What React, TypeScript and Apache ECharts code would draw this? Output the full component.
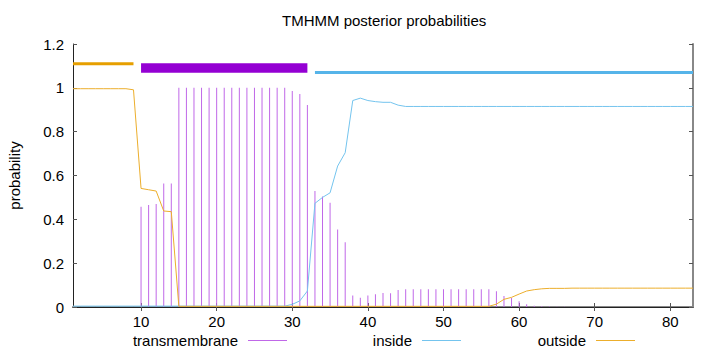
import React, { useEffect, useRef } from 'react';
import * as echarts from 'echarts';

const positions = [
  1, 2, 3, 4, 5, 6, 7, 8, 9, 10, 11, 12, 13, 14, 15, 16, 17, 18, 19, 20,
  21, 22, 23, 24, 25, 26, 27, 28, 29, 30, 31, 32, 33, 34, 35, 36, 37, 38, 39, 40,
  41, 42, 43, 44, 45, 46, 47, 48, 49, 50, 51, 52, 53, 54, 55, 56, 57, 58, 59, 60,
  61, 62, 63, 64, 65, 66, 67, 68, 69, 70, 71, 72, 73, 74, 75, 76, 77, 78, 79, 80,
  81, 82, 83,
];

const transmembrane = [
  0, 0, 0, 0, 0, 0, 0, 0, 0,
  0.457, 0.465, 0.47, 0.564, 0.564,
  1, 1, 1, 1, 1, 1, 1, 1, 1, 1, 1, 1, 1, 1, 1,
  0.986, 0.972, 0.922,
  0.529, 0.504, 0.476, 0.354, 0.296, 0.053, 0.042, 0.053, 0.058, 0.064, 0.063, 0.078, 0.081,
  0.081, 0.081, 0.081, 0.081, 0.081, 0.081, 0.081, 0.081, 0.081, 0.081, 0.081,
  0.072, 0.05, 0.041, 0.026, 0.012, 0.006, 0.003, 0.002, 0.001, 0.001,
  0, 0, 0, 0, 0, 0, 0, 0, 0, 0, 0, 0, 0, 0, 0, 0, 0,
];

const inside = [
  0.004, 0.004, 0.004, 0.004, 0.004, 0.004, 0.004, 0.004, 0.004, 0.004,
  0.004, 0.004, 0.004, 0.004, 0.004, 0.004, 0.004, 0.004, 0.004, 0.004,
  0.004, 0.004, 0.004, 0.004, 0.004, 0.004, 0.004, 0.004, 0.004,
  0.012, 0.028, 0.073, 0.473, 0.5, 0.521, 0.643, 0.704, 0.942, 0.953, 0.942, 0.937, 0.934, 0.934, 0.921, 0.915,
  0.915, 0.915, 0.915, 0.915, 0.915, 0.915, 0.915, 0.915, 0.915, 0.915,
  0.915, 0.915, 0.915, 0.915, 0.915, 0.915, 0.915, 0.915, 0.915, 0.915,
  0.915, 0.915, 0.915, 0.915, 0.915, 0.915, 0.915, 0.915, 0.915, 0.915,
  0.915, 0.915, 0.915, 0.915, 0.915, 0.915, 0.915, 0.915,
];

const outside = [
  0.996, 0.996, 0.996, 0.996, 0.996, 0.996, 0.996, 0.996, 0.991,
  0.541, 0.535, 0.529, 0.438, 0.435,
  0.003, 0.003, 0.003, 0.003, 0.003, 0.003, 0.003, 0.003, 0.003, 0.003,
  0.003, 0.003, 0.003, 0.003, 0.003, 0.003, 0.003, 0.003, 0.003, 0.003,
  0.003, 0.003, 0.003, 0.003, 0.003, 0.003, 0.003, 0.003, 0.003, 0.003,
  0.003, 0.003, 0.003, 0.003, 0.003, 0.003, 0.003, 0.003, 0.003, 0.003,
  0.003, 0.003,
  0.013, 0.035, 0.044, 0.059, 0.073, 0.079, 0.083, 0.085, 0.085, 0.085,
  0.086, 0.086, 0.086, 0.086, 0.086, 0.086, 0.086, 0.086, 0.086, 0.086,
  0.086, 0.086, 0.086, 0.086, 0.086, 0.086, 0.086,
];

// predicted topology segments drawn above the curves
const topoNames = ['outside', 'TMhelix', 'inside'];
const topoStart = [1, 10, 33];
const topoEnd = [9, 32, 83];
const topoLevel = [1.11, 1.09, 1.07];

const xTicks = [10, 20, 30, 40, 50, 60, 70, 80];

const FONT = 'Liberation Sans, Arial, Helvetica, sans-serif';
const TM_COLOR = '#c068e8';
const IN_COLOR = '#74c4ee';
const OUT_COLOR = '#ecae2c';
const topoColors = ['#e69f00', '#9400d3', '#56b4e9'];
const topoWidths = [3, 9.5, 3];

export default function App() {
  const ref = useRef<HTMLDivElement>(null);
  useEffect(() => {
    document.body.style.margin = '0';
    const chart = echarts.init(ref.current!, null, { renderer: 'svg' });

    const legendCommon = {
      orient: 'horizontal',
      align: 'right',
      icon: 'rect',
      itemWidth: 39,
      itemHeight: 1,
      padding: 0,
      top: 333,
      selectedMode: false,
      textStyle: { fontFamily: FONT, fontSize: 15, color: '#000', padding: [0, 5, 0, 0] },
    };

    const option: any = {
      animation: false,
      backgroundColor: '#fff',
      textStyle: { fontFamily: FONT },
      title: {
        text: 'TMHMM posterior probabilities',
        left: 282,
        top: 13,
        padding: 0,
        textStyle: { fontFamily: FONT, fontSize: 15, fontWeight: 'normal', color: '#000' },
      },
      legend: [
        { ...legendCommon, right: 433, data: ['transmembrane'] },
        { ...legendCommon, right: 259, data: ['inside'] },
        { ...legendCommon, right: 85, data: ['outside'] },
      ],
      grid: { left: 73, right: 27, top: 44, bottom: 45, containLabel: false, outerBoundsMode: 'none' },
      xAxis: [
        {
          type: 'value',
          min: 1,
          max: 83,
          position: 'bottom',
          axisLine: { show: true, onZero: false, lineStyle: { color: '#888', width: 2 } },
          axisTick: { show: true, inside: true, length: 4, customValues: xTicks, lineStyle: { color: '#555' } },
          axisLabel: { customValues: xTicks, fontFamily: FONT, fontSize: 15, color: '#000', margin: 7 },
          splitLine: { show: false },
        },
        {
          type: 'value',
          min: 1,
          max: 83,
          position: 'top',
          axisLine: { show: true, lineStyle: { color: '#222', width: 1 } },
          axisTick: { show: true, inside: true, length: 4, customValues: xTicks, lineStyle: { color: '#555' } },
          axisLabel: { show: false },
          splitLine: { show: false },
        },
      ],
      yAxis: [
        {
          type: 'value',
          min: 0,
          max: 1.2,
          interval: 0.2,
          position: 'left',
          name: 'probability',
          nameLocation: 'middle',
          nameGap: 51,
          nameTextStyle: { fontFamily: FONT, fontSize: 15, color: '#000' },
          axisLine: { show: true, onZero: false, lineStyle: { color: '#222', width: 1 } },
          axisTick: { show: true, inside: true, length: 4, lineStyle: { color: '#555' } },
          axisLabel: { fontFamily: FONT, fontSize: 15, color: '#000', margin: 9 },
          splitLine: { show: false },
        },
        {
          type: 'value',
          min: 0,
          max: 1.2,
          interval: 0.2,
          position: 'right',
          axisLine: { show: true, onZero: false, lineStyle: { color: '#888', width: 2 } },
          axisTick: { show: true, inside: true, length: 4, lineStyle: { color: '#555' } },
          axisLabel: { show: false },
          splitLine: { show: false },
        },
      ],
      series: [
        {
          name: 'transmembrane',
          type: 'bar',
          xAxisIndex: 0,
          yAxisIndex: 0,
          barWidth: 1,
          itemStyle: { color: TM_COLOR },
          data: positions.map((p, i) => [p, transmembrane[i]]),
          z: 2,
        },
        {
          name: 'inside',
          type: 'line',
          xAxisIndex: 0,
          yAxisIndex: 0,
          symbol: 'none',
          itemStyle: { color: IN_COLOR },
          lineStyle: { color: IN_COLOR, width: 1 },
          data: positions.map((p, i) => [p, inside[i]]),
          z: 3,
        },
        {
          name: 'outside',
          type: 'line',
          xAxisIndex: 0,
          yAxisIndex: 0,
          symbol: 'none',
          itemStyle: { color: OUT_COLOR },
          lineStyle: { color: OUT_COLOR, width: 1 },
          data: positions.map((p, i) => [p, outside[i]]),
          z: 4,
        },
        ...topoNames.map((n, k) => ({
          name: 'topology-' + n,
          type: 'line',
          xAxisIndex: 0,
          yAxisIndex: 0,
          symbol: 'none',
          silent: true,
          lineStyle: { color: topoColors[k], width: topoWidths[k], cap: 'butt' },
          data: [
            [topoStart[k], topoLevel[k]],
            [topoEnd[k], topoLevel[k]],
          ],
          z: 5,
        })),
      ],
    };

    chart.setOption(option);
    return () => chart.dispose();
  }, []);

  return <div ref={ref} style={{ position: 'absolute', left: 0, top: 0, width: 720, height: 352 }} />;
}
